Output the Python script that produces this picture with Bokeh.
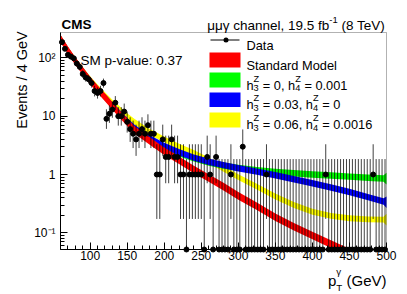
import math
from bokeh.plotting import figure
from bokeh.models import (Range1d, FixedTicker, SingleIntervalTicker, Label,
                          BoxAnnotation, CustomJSTickFormatter)
from bokeh.embed import file_html
from bokeh.resources import INLINE

# ---------------- data ----------------
bin_centers = list(range(62, 500, 4))          # 4 GeV bins, 60-500 GeV
counts = [186, 143, 113, 105, 98, 80, 70, 53, 46, 43, 37, 27, 25, 27, 37,
          9, 11, 13, 17, 10, 10, 12, 8, 6, 5, 4, 5, 6, 5, 7, 5, 5,
          1, 1, 4, 2, 2, 4, 2, 2, 1, 1,
          0, 1, 1, 1, 1, 1, 0, 2, 1, 0, 2, 0, 0, 0, 0, 1, 0, 0, 0, 3,
          0, 0, 0, 0, 0, 0, 0, 1,
          0, 0, 0, 0, 0, 0, 0, 0, 0, 0, 0, 0, 0, 0, 0, 0, 0, 0, 0, 1,
          0, 0, 0, 0, 0, 0, 0, 0, 0, 0, 0, 0, 0, 0, 0, 1,
          0, 0, 0, 0]

model_x = [60, 70, 80, 90, 100, 110, 120, 130, 140, 150, 160, 180, 200, 220,
           240, 260, 280, 300, 325, 350, 375, 400, 425, 450, 475, 496, 500]
sm_pred = [215, 135, 88, 60, 41, 29, 21, 15, 10.8, 7.9, 5.8, 3.8, 2.5, 1.75,
           1.22, 0.87, 0.62, 0.43, 0.285, 0.185, 0.127, 0.09, 0.064, 0.046,
           0.033, 0.025, 0.024]
green_pred = [215, 135, 88, 60, 41, 29, 21, 15.2, 11.0, 8.1, 6.1, 4.0, 2.9,
              2.3, 1.9, 1.6, 1.42, 1.30, 1.19, 1.11, 1.05, 1.0, 0.96, 0.92,
              0.88, 0.855, 0.85]
blue_pred = [215, 135, 88, 60, 41, 29, 21.2, 15.4, 11.2, 8.3, 6.3, 4.2, 3.1,
             2.4, 1.95, 1.65, 1.45, 1.28, 1.12, 0.97, 0.83, 0.71, 0.6, 0.5,
             0.41, 0.345, 0.335]
yellow_pred = [220, 138, 90, 62, 43, 31, 23, 17, 13, 10, 8, 5.4, 4.0, 3.0,
               2.35, 1.75, 1.25, 0.9, 0.62, 0.42, 0.3, 0.23, 0.195, 0.178,
               0.17, 0.168, 0.168]
# band half-widths (log10 units)
sm_unc = [0.065] * 27
green_unc = [0.055] * 25 + [0.055, 0.1]
blue_unc = [0.055] * 25 + [0.055, 0.1]
yellow_unc = [0.05] * 25 + [0.05, 0.1]

y_tick_values = [0.1, 1, 10, 100]
y_tick_labels = ["10\u207b\u00b9", "1", "10", "10\u00b2"]
y_minor = [0.06, 0.07, 0.08, 0.09, 0.2, 0.3, 0.4, 0.5, 0.6, 0.7, 0.8, 0.9,
           2, 3, 4, 5, 6, 7, 8, 9, 20, 30, 40, 50, 60, 70, 80, 90, 200]

# Garwood Poisson intervals for small counts
garwood = {0: (0.0, 1.841), 1: (0.173, 3.300), 2: (0.708, 4.638),
           3: (1.367, 5.918), 4: (2.086, 7.163), 5: (2.840, 8.382),
           6: (3.620, 9.584), 7: (4.419, 10.77), 8: (5.232, 11.95),
           9: (6.057, 13.11), 10: (6.891, 14.27)}

XMIN, XMAX = 60, 500
YMIN, YMAX = 0.0518, 272
FONT = "Liberation Sans"

# ---- layout: the bokeh frame is the whole canvas; the visible frame is drawn ----
W, H = 405, 292
FL, FR, FT, FB = 60, 386, 32, 249          # visible frame edges (pixels)
kx = (XMAX - XMIN) / (FR - FL)
x_lo = XMIN - FL * kx
x_hi = XMAX + (W - FR) * kx
ky = (math.log10(YMAX) - math.log10(YMIN)) / (FB - FT)
y_hi = 10 ** (math.log10(YMAX) + FT * ky)
y_lo = 10 ** (math.log10(YMIN) - (H - FB) * ky)

p = figure(width=W, height=H, x_range=Range1d(x_lo, x_hi),
           y_range=Range1d(y_lo, y_hi), y_axis_type="log",
           output_backend="svg", toolbar_location=None,
           min_border=0, min_border_left=0, min_border_right=0,
           min_border_top=0, min_border_bottom=0)
p.xgrid.visible = False
p.ygrid.visible = False
p.outline_line_color = None
p.background_fill_color = "white"
p.border_fill_color = "white"

xa = p.xaxis[0]
xa.ticker = SingleIntervalTicker(interval=50, num_minor_ticks=5)
xa.fixed_location = YMIN
xa.bounds = (XMIN, XMAX)
ya = p.yaxis[0]
ya.ticker = FixedTicker(ticks=y_tick_values, minor_ticks=y_minor)
ya.fixed_location = XMIN
ya.bounds = (YMIN, YMAX)
ya.formatter = CustomJSTickFormatter(args=dict(vals=y_tick_values, labs=y_tick_labels), code="""
  for (let i = 0; i < vals.length; i++) {
    if (Math.abs(Math.log10(vals[i]) - Math.log10(tick)) < 1e-6) return labs[i];
  }
  return '';
""")
for ax in (xa, ya):
    ax.axis_line_color = "black"
    ax.axis_line_width = 1
    ax.major_tick_in = 7
    ax.major_tick_out = 0
    ax.minor_tick_in = 4
    ax.minor_tick_out = 0
    ax.major_tick_line_color = "black"
    ax.minor_tick_line_color = "black"
    ax.major_label_text_font = FONT
    ax.major_label_text_font_size = "12px"
    ax.major_label_text_color = "black"
xa.major_label_standoff = 1
ya.major_label_standoff = 5

# visible frame box
p.add_layout(BoxAnnotation(left=XMIN, right=XMAX, bottom=YMIN, top=YMAX,
                           fill_alpha=0, line_color="black", line_width=1))

# ---- model bands (kept inside the visible frame) ----
def band(vals, unc, color):
    lo = [max(v * 10 ** (-u), YMIN) for v, u in zip(vals, unc)]
    hi = [max(v * 10 ** (u), YMIN) for v, u in zip(vals, unc)]
    p.varea(x=model_x, y1=lo, y2=hi, fill_color=color, fill_alpha=1)

band(yellow_pred, yellow_unc, "#ffff00")
band(green_pred, green_unc, "#00ff00")
band(blue_pred, blue_unc, "#0000ff")
band(sm_pred, sm_unc, "#ff0000")

# ---- data ----
py_, lo_, hi_ = [], [], []
for c in counts:
    if c in garwood:
        l, h = garwood[c]
    else:
        l, h = c - math.sqrt(c), c + math.sqrt(c) + 1
    py_.append(c if c > 0 else YMIN)
    lo_.append(max(l, YMIN))
    hi_.append(h)
p.segment(x0=bin_centers, y0=lo_, x1=bin_centers, y1=hi_, line_color="black",
          line_alpha=0.75, line_width=1)
p.segment(x0=[x - 2 for x in bin_centers], y0=py_, x1=[x + 2 for x in bin_centers], y1=py_,
          line_color="black", line_width=1)
p.scatter(x=bin_centers, y=py_, size=5, color="black")

# ---- text helpers (page pixel coords) ----
AW = {' ': 278, '(': 333, ')': 333, ',': 278, '-': 333, '.': 278, '/': 278,
      ':': 278, '=': 584, 'C': 722, 'E': 667, 'G': 778, 'M': 833, 'S': 667,
      'T': 611, 'V': 667, 'Z': 611, 'D': 722, 'a': 556, 'b': 556, 'c': 500,
      'd': 556, 'e': 556, 'f': 278, 'h': 556, 'l': 222, 'n': 556, 'o': 556,
      'p': 556, 'r': 333, 's': 500, 't': 278, 'u': 556, 'v': 500,
      '\u03bc': 576, '\u03b3': 500}


def tw(s, fs):
    return sum(AW.get(ch, 556) for ch in s) * fs / 1000.0


def lab(text, x, base, fs, style="normal", align="left", angle=0, baseline="alphabetic"):
    if align == "left":
        stripped = text.lstrip(" ")
        x += tw(text[:len(text) - len(stripped)], fs)
        text = stripped
    p.add_layout(Label(x=x, y=H - base, x_units="screen", y_units="screen",
                       text=text, text_font=FONT, text_font_size=f"{fs}px",
                       text_font_style=style, text_color="black",
                       text_align=align, text_baseline=baseline, angle=angle))


def rich(pieces, x, base, fs, align="left", sup_r=0.5, sub_r=0.25, sc=0.72):
    sfs = fs * sc
    def pw(pc):
        if isinstance(pc, str):
            return tw(pc, fs)
        return max(tw(pc[0], sfs), tw(pc[1], sfs))
    total = sum(pw(pc) for pc in pieces)
    if align == "right":
        x -= total
    for pc in pieces:
        if isinstance(pc, str):
            lab(pc, x, base, fs)
        else:
            sup, sub = pc
            if sup:
                lab(sup, x, base - sup_r * fs, round(sfs, 2))
            if sub:
                lab(sub, x, base + sub_r * fs, round(sfs, 2))
        x += pw(pc)


# header texts
lab("CMS", 61, 24, 13.5, style="bold")
rich(["\u03bc\u03bc\u03b3 channel, 19.5 fb", ("-1", ""), " (8 TeV)"], 386, 25, 13.5,
     align="right", sup_r=0.4, sc=0.7)
lab("SM p-value: 0.37", 80, 59.5, 13.5)

# axis titles
lab("Events / 4 GeV", 21.5, 79.5, 14.5, align="center", angle=math.pi / 2,
    baseline="middle")
rich(["p", ("\u03b3", "T"), " (GeV)"], 386, 280, 15, align="right", sup_r=0.6,
     sub_r=0.45, sc=0.65)

# legend
def box(x0, x1, y0, y1, color, radius=0):
    p.add_layout(BoxAnnotation(left=x0, right=x1, top=H - y0, bottom=H - y1,
                               left_units="screen", right_units="screen",
                               top_units="screen", bottom_units="screen",
                               fill_color=color, fill_alpha=1, line_color=None,
                               border_radius=radius))

LFS = 12.8
box(210, 239, 39, 40, "black")
box(223, 228, 37, 42, "black", radius=3)
lab("Data", 246, 44.5, LFS)
box(209, 240, 52, 67, "#ff0000")
lab("Standard Model", 246, 64.5, LFS)
box(209, 240, 72, 87, "#00ff00")
rich(["h", ("Z", "3"), " = 0, h", ("Z", "4"), " = 0.001"], 246, 84.5, LFS)
box(209, 240, 92, 106.5, "#0000ff")
rich(["h", ("Z", "3"), " = 0.03, h", ("Z", "4"), " = 0"], 246, 104, LFS)
box(209, 240, 112, 127, "#ffff00")
rich(["h", ("Z", "3"), " = 0.06, h", ("Z", "4"), " = 0.0016"], 246, 124, LFS)

open("out.html", "w").write(file_html(p, INLINE))
